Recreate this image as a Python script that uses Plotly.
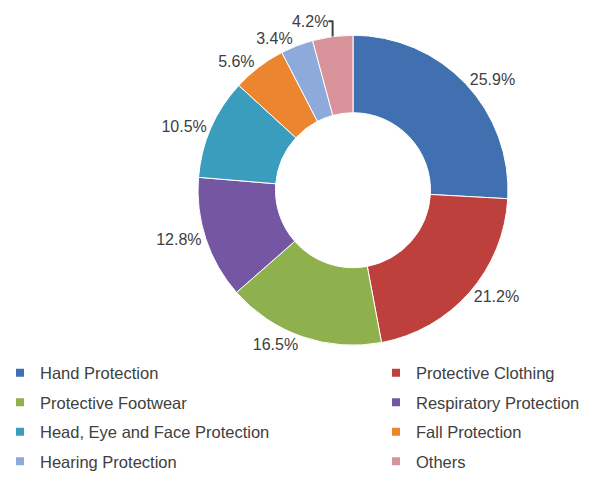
import plotly.graph_objects as go

categories = ["Hand Protection", "Protective Clothing", "Protective Footwear",
              "Respiratory Protection", "Head, Eye and Face Protection",
              "Fall Protection", "Hearing Protection", "Others"]
values = [25.9, 21.2, 16.5, 12.8, 10.5, 5.6, 3.4, 4.2]
colors = ["#4070B0", "#BE403D", "#8FB14D", "#7556A2", "#3A9DBE",
          "#EC8530", "#8EAADA", "#D8939A"]

W, H = 598, 479
ML, MR, MT, MB = 0, 0, 0, 12
PW, PH = W - ML - MR, H - MT - MB
# legends push the plot area vertically a little (measured)
AT, APH = 2.3, 449.0
FONT = "Liberation Sans, Arial, sans-serif"

fig = go.Figure()

fig.add_trace(go.Pie(
    labels=categories,
    values=values,
    hole=0.5,
    sort=False,
    direction="clockwise",
    rotation=0,
    marker=dict(colors=colors, line=dict(color="white", width=1)),
    texttemplate="%{value:.1f}%",
    textposition="outside",
    textfont=dict(family=FONT, size=16, color="#404040"),
    domain=dict(x=[(198 - ML) / PW, (508 - ML) / PW],
                y=[1 - (345 - AT) / APH, 1 - (35 - AT) / APH]),
    hoverinfo="label+value",
    automargin=False,
    showlegend=False,
))

# legend entries, two columns (left: even indices, right: odd indices)
for i, (cat, col) in enumerate(zip(categories, colors)):
    fig.add_trace(go.Scatter(
        x=[None], y=[None], mode="markers",
        marker=dict(symbol="square", size=8, color=col),
        name=cat, legendgroup=cat,
        legend="legend" if i % 2 == 0 else "legend2",
        showlegend=True, hoverinfo="skip",
    ))

leg_common = dict(
    orientation="v",
    yanchor="top", y=(PH - 365) / PH,
    xanchor="left",
    itemwidth=30,
    tracegroupgap=5,
    traceorder="grouped",
    font=dict(family=FONT, size=16.5, color="#404040"),
    bgcolor="rgba(0,0,0,0)",
    itemclick=False, itemdoubleclick=False,
)

fig.update_layout(
    width=W, height=H,
    margin=dict(l=ML, r=MR, t=MT, b=MB),
    paper_bgcolor="white",
    plot_bgcolor="white",
    xaxis=dict(visible=False),
    yaxis=dict(visible=False),
    legend=dict(x=0, **leg_common),
    legend2=dict(x=376 / PW, **leg_common),
)

fig.write_html(
    "out.html",
    config={"displayModeBar": False},
    post_script="document.body.style.margin='0';document.body.style.padding='0';",
)
